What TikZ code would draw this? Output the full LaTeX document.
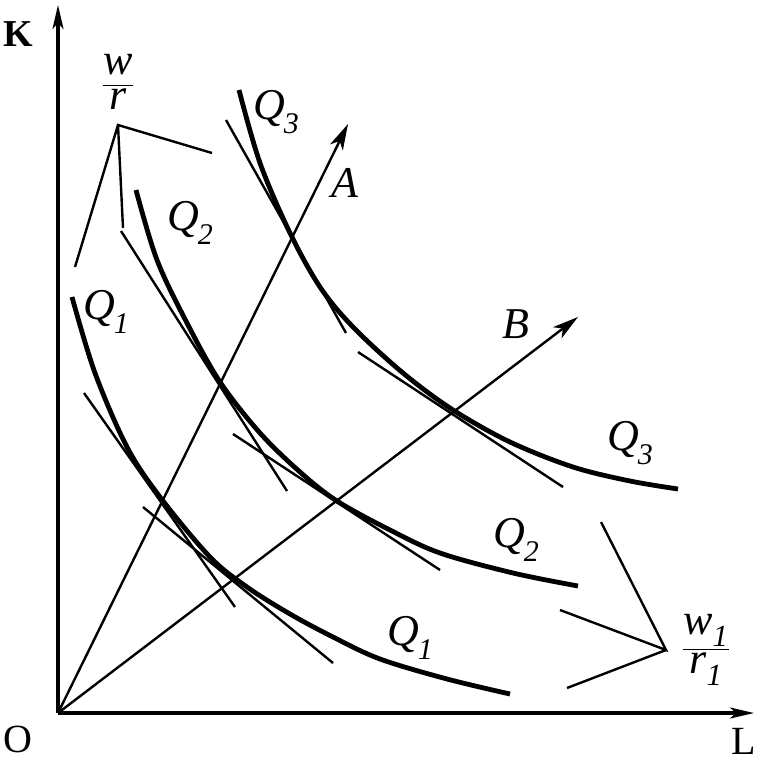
\documentclass[tikz,border=0pt]{standalone}
\usepackage{amsmath}
\usepackage{fontspec}
\setmainfont{Liberation Serif}
\usetikzlibrary{arrows.meta}
\newcommand{\Qlab}[1]{\textit{Q}\kern-1pt\raisebox{-0.32em}{\fontsize{30}{30}\selectfont\textit{#1}}}
\begin{document}
\begin{tikzpicture}[x=1pt,y=-1pt,
  axis/.style={line width=3.2pt,-{Stealth[length=24pt,width=11pt,inset=6pt]}},
  ray/.style={line width=2.4pt,-{Stealth[length=26pt,width=14pt,inset=7pt]}},
  curve/.style={line width=4.8pt},
  tang/.style={line width=2.4pt},
  lab/.style={font=\fontsize{44}{48}\selectfont, inner sep=0pt},
  axlab/.style={font=\fontsize{40}{42}\selectfont, inner sep=0pt}]
\useasboundingbox (0,0) rectangle (762,762);
\fill[white] (0,0) rectangle (762,762);
% axes
\coordinate (O) at (58,713);
\coordinate (Ktop) at (58,5);
\coordinate (Lend) at (754,713);
\draw[axis] (O) -- (Ktop);
\draw[axis] (O) -- (Lend);
\node[axlab,font=\fontsize{38}{40}\selectfont\bfseries] (K) at (18,34) {K};
\node[axlab] (Olab) at (18,739) {O};
\node[axlab] (L) at (744,741) {L};
% rays
\coordinate (Atip) at (348,124);
\coordinate (Btip) at (578,317);
\draw[ray] (O) -- (Atip);
\draw[ray] (O) -- (Btip);
\node[lab] (A) at (345,183) {\textit{A}};
\node[lab] (B) at (516,324) {\textit{B}};
% isoquants
\draw[curve] plot[smooth,tension=0.55] coordinates {(72,297) (95,373) (127,447) (160,497) (210,557) (247,587) (290,614) (333,637) (380,659) (447,679) (510,694)};
\draw[curve] plot[smooth,tension=0.55] coordinates {(136,190) (157,260) (187,323) (220,382) (260,433) (300,472) (337,501) (390,530) (440,553) (513,573) (578,586)};
\draw[curve] plot[smooth,tension=0.55] coordinates {(239,90) (260,163) (290,233) (320,287) (353,327) (403,373) (453,410) (510,442) (573,467) (630,481) (678,489)};
% tangent lines
\draw[tang] (226,120) -- (346,333);
\draw[tang] (358,352) -- (563,487);
\draw[tang] (121,231) -- (287,491);
\draw[tang] (233,434) -- (440,570);
\draw[tang] (84,393) -- (235,607);
\draw[tang] (143,507) -- (333,663);
% w/r lines
\coordinate (WR) at (118,125);
\draw[tang] (75,267) -- (WR) -- (212,153);
\draw[tang] (WR) -- (123,228);
\coordinate (WR1) at (666,650);
\draw[tang] (601,522) -- (WR1) -- (560,610);
\draw[tang] (WR1) -- (567,688);
% labels
\node[lab] (wr) at (118,82) {$\displaystyle\frac{\text{\textit{w}}}{\text{\textit{r}}}$};
\node[lab] (wr1) at (706,650) {$\displaystyle\frac{\text{\textit{w}}_{\text{\textit{1}}}}{\text{\textit{r}}_{\text{\textit{1}}}}$};
\node[lab] (q3a) at (276,112) {\Qlab{3}};
\node[lab] (q2a) at (190,223) {\Qlab{2}};
\node[lab] (q1a) at (106,312) {\Qlab{1}};
\node[lab] (q3b) at (630,443) {\Qlab{3}};
\node[lab] (q2b) at (516,540) {\Qlab{2}};
\node[lab] (q1b) at (410,638) {\Qlab{1}};
\end{tikzpicture}
\end{document}
